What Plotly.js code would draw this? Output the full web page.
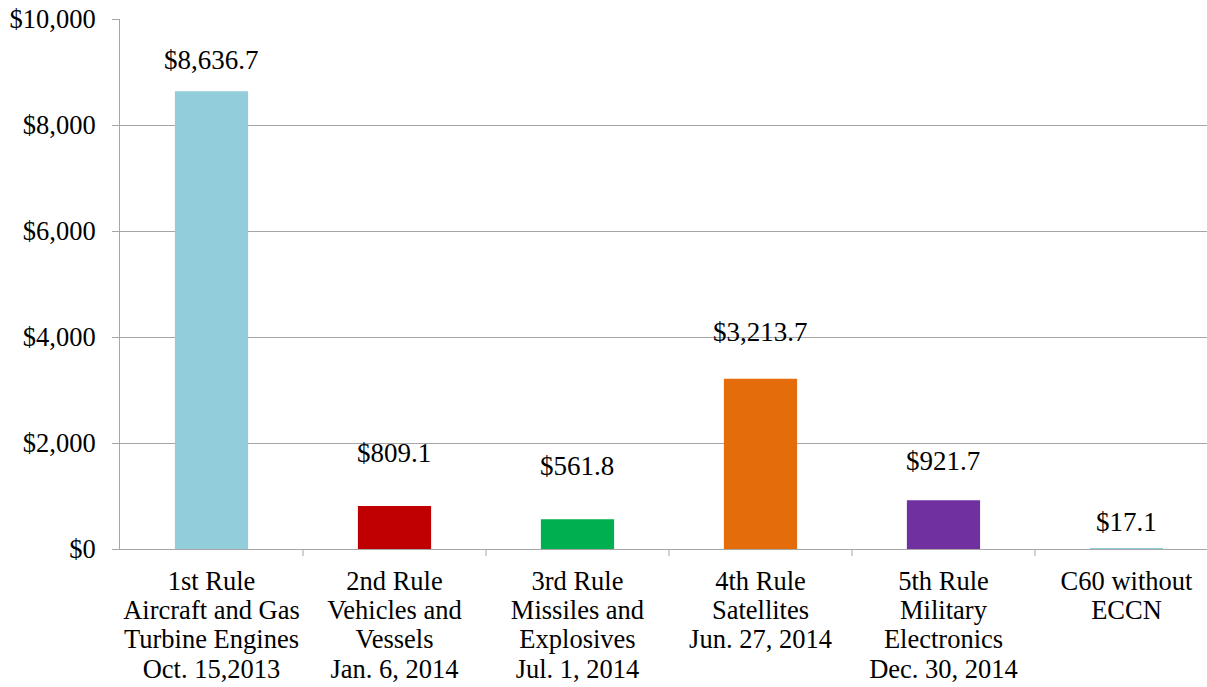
<!DOCTYPE html>
<html>
<head>
<meta charset="utf-8">
<script src="https://cdn.plot.ly/plotly-3.0.1.min.js"></script>
<style>
  html, body { margin: 0; padding: 0; background: #fff; }
  #chart { width: 1207px; height: 687px; }
</style>
</head>
<body>
<div id="chart"></div>
<script>
// ---- data ----
const categories = [
  "1st Rule<br>Aircraft and Gas<br>Turbine Engines<br>Oct. 15,2013",
  "2nd Rule<br>Vehicles and<br>Vessels<br>Jan. 6, 2014",
  "3rd Rule<br>Missiles and<br>Explosives<br>Jul. 1, 2014",
  "4th Rule<br>Satellites<br>Jun. 27, 2014",
  "5th Rule<br>Military<br>Electronics<br>Dec. 30, 2014",
  "C60 without<br>ECCN"
];
const values = [8636.7, 809.1, 561.8, 3213.7, 921.7, 17.1];
const valueLabels = ["$8,636.7", "$809.1", "$561.8", "$3,213.7", "$921.7", "$17.1"];
const yTickValues = [0, 2000, 4000, 6000, 8000, 10000];
const yTickLabels = ["$0", "$2,000", "$4,000", "$6,000", "$8,000", "$10,000"];

// ---- style ----
const barColors = ["#92CDDC", "#C00000", "#00B050", "#E46C0A", "#7030A0", "#92CDDC"];
const labelLift = [31, 53, 53, 47, 39, 26]; // pixel offsets of hand-placed labels
const FONT = "Liberation Serif";
const FS = 26.5;
const GRID = "#A6A6A6";
const LINE_EM = 1.105;

const idx = categories.map((_, i) => i);

const trace = {
  type: "bar",
  x: idx,
  y: values,
  width: 0.4,
  marker: { color: barColors, line: { width: 0 } },
  hoverinfo: "skip"
};

const annotations = values.map((v, i) => ({
  x: i, y: v, xref: "x", yref: "y",
  text: valueLabels[i],
  showarrow: false,
  yanchor: "middle",
  xanchor: "center",
  yshift: labelLift[i],
  font: { family: FONT, size: 27, color: "#000" }
}));

const layout = {
  width: 1207, height: 687,
  margin: { l: 120, r: 0, t: 19, b: 138, pad: 0 },
  paper_bgcolor: "#fff", plot_bgcolor: "#fff",
  showlegend: false,
  font: { family: FONT, size: FS, color: "#000" },
  xaxis: {
    range: [-0.5, 5.44],
    tickmode: "array",
    tickvals: idx,
    ticktext: categories,
    ticks: "",
    ticklabelstandoff: 8,
    showgrid: false,
    showline: true, linecolor: GRID, linewidth: 1,
    zeroline: false,
    tickfont: { family: FONT, size: FS, color: "#000" },
    fixedrange: true
  },
  yaxis: {
    range: [0, 10000],
    tickmode: "array",
    tickvals: yTickValues,
    ticktext: yTickLabels,
    ticks: "outside", ticklen: 7, tickcolor: GRID, tickwidth: 1,
    ticklabelstandoff: 11,
    showgrid: true, gridcolor: GRID, gridwidth: 1,
    showline: true, linecolor: GRID, linewidth: 1,
    zeroline: false,
    tickfont: { family: FONT, size: FS, color: "#000" },
    fixedrange: true
  },
  // category boundary tick marks below the x axis
  shapes: [1, 2, 3, 4, 5].map(i => ({
    type: "line", xref: "x", yref: "paper",
    x0: i - 0.5, x1: i - 0.5, y0: 0, y1: -0.0135,
    line: { color: GRID, width: 1 }
  })),
  annotations: annotations
};

function tightenLines(gd) {
  gd.querySelectorAll(".xtick text").forEach(txt => {
    const lines = txt.querySelectorAll("tspan.line");
    lines.forEach((t, k) => {
      // plotly positions each line relative to the first one
      t.setAttribute("dy", (k * LINE_EM).toFixed(3) + "em");
    });
  });
}

Plotly.newPlot("chart", [trace], layout, { displayModeBar: false, staticPlot: true }).then(gd => {
  tightenLines(gd);
});
</script>
</body>
</html>
